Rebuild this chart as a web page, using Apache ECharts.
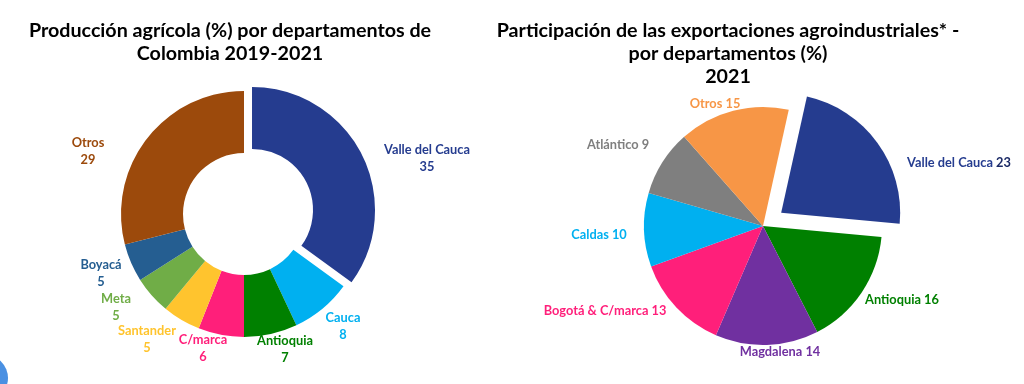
<!DOCTYPE html>
<html>
<head>
<meta charset="utf-8">
<style>html,body{margin:0;background:#fff}#main{width:1024px;height:384px}</style>
<script src="https://cdn.jsdelivr.net/npm/echarts@6/dist/echarts.min.js"></script>
</head>
<body>
<div id="main"></div>
<script>
// produccion agricola
const prodNames = ['Valle del Cauca', 'Cauca', 'Antioquia', 'C/marca', 'Santander', 'Meta', 'Boyacá', 'Otros'];
const prodValues = [35, 8, 7, 6, 5, 5, 5, 29];
const prodColors = ['#253C8F', '#00B0F0', '#008000', '#FF1F7A', '#FFC42E', '#70AD47', '#255E91', '#9C4A0C'];
const prodLabelPos = [[427, 158], [343, 326], [285, 349], [203, 348], [147, 339], [116, 307], [101, 273], [88, 151]];

// exportaciones agroindustriales
const expoNames = ['Valle del Cauca', 'Antioquia', 'Magdalena', 'Bogotá & C/marca', 'Caldas', 'Atlántico', 'Otros'];
const expoValues = [23, 16, 14, 13, 10, 9, 15];
const expoColors = ['#253C8F', '#008000', '#7030A0', '#FF1F7A', '#00B0F0', '#7F7F7F', '#F79646'];
const expoLabelPos = [[959, 163], [902, 300], [780, 352], [605, 311], [599, 235], [618, 145], [715, 104]];

const font = 'Lato';
const labelSize = 12.8;

function pieData(names, values, colors) {
  return names.map(function (name, i) {
    return {
      name: name,
      value: values[i],
      selected: i === 0,
      itemStyle: { color: colors[i] },
      select: { itemStyle: { color: colors[i], borderWidth: 0 } },
      // selected slice ignores labelLayout, its label goes in graphic below
      label: { show: i !== 0, color: colors[i] }
    };
  });
}

function placeLabels(pos) {
  return function (params) {
    return {
      x: pos[params.dataIndex][0],
      y: pos[params.dataIndex][1],
      align: 'center',
      verticalAlign: 'middle'
    };
  };
}

const chart = echarts.init(document.getElementById('main'), null, { renderer: 'canvas' });

const titleStyle = { color: '#000', fontFamily: font, fontWeight: 'bold', fontSize: 19.7, lineHeight: 23 };

chart.setOption({
  animation: false,
  backgroundColor: '#fff',
  title: [{
    text: 'Producción agrícola (%) por departamentos de\nColombia 2019-2021',
    left: 225,
    top: 14,
    textAlign: 'center',
    textStyle: titleStyle
  }, {
    text: 'Participación de las exportaciones agroindustriales* -\npor departamentos (%)\n2021',
    left: 723,
    top: 14,
    textAlign: 'center',
    textStyle: titleStyle
  }],
  graphic: [{
    type: 'circle',
    shape: { cx: -15, cy: 378, r: 23 },
    style: { fill: '#4A90E2' }
  }, {
    type: 'text',
    x: prodLabelPos[0][0],
    y: prodLabelPos[0][1],
    style: {
      text: prodNames[0] + '\n' + prodValues[0],
      fill: prodColors[0],
      font: 'bold ' + labelSize + 'px ' + font,
      lineHeight: 17,
      align: 'center',
      verticalAlign: 'middle'
    }
  }, {
    type: 'text',
    x: expoLabelPos[0][0],
    y: expoLabelPos[0][1],
    style: {
      text: expoNames[0] + ' {navy|' + expoValues[0] + '}',
      fill: expoColors[0],
      font: 'bold ' + labelSize + 'px ' + font,
      align: 'center',
      verticalAlign: 'middle',
      rich: {
        navy: { fill: '#1B2A66', font: 'bold ' + labelSize + 'px ' + font }
      }
    }
  }],
  series: [{
    type: 'pie',
    center: [244, 214],
    radius: [61, 123],
    startAngle: 90,
    selectedMode: 'multiple',
    selectedOffset: 9,
    label: {
      position: 'outside',
      formatter: '{b}\n{c}',
      fontFamily: font,
      fontWeight: 'bold',
      fontSize: labelSize,
      lineHeight: 17
    },
    labelLine: { show: false },
    labelLayout: placeLabels(prodLabelPos),
    data: pieData(prodNames, prodValues, prodColors)
  }, {
    type: 'pie',
    center: [763, 226],
    radius: [0, 119],
    startAngle: 77.5,
    selectedMode: 'multiple',
    selectedOffset: 22.5,
    label: {
      position: 'outside',
      formatter: '{b} {c}',
      fontFamily: font,
      fontWeight: 'bold',
      fontSize: labelSize
    },
    labelLine: { show: false },
    labelLayout: placeLabels(expoLabelPos),
    data: pieData(expoNames, expoValues, expoColors)
  }]
});
</script>
</body>
</html>
